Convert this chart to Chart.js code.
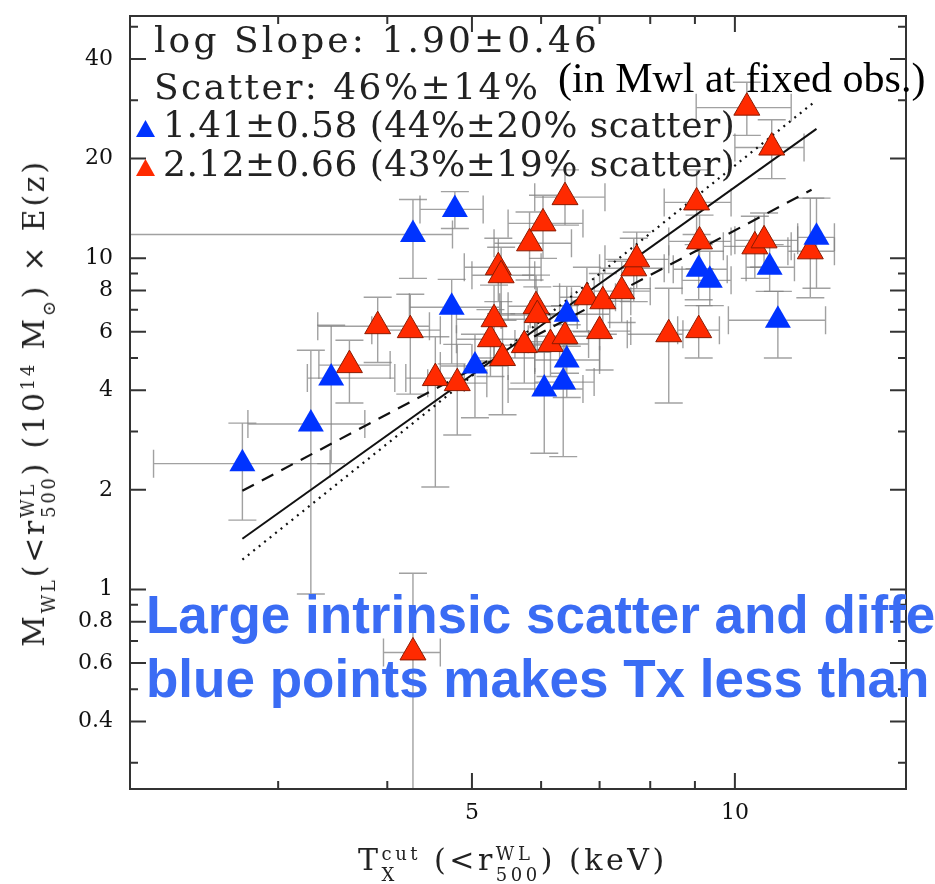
<!DOCTYPE html>
<html lang="pt-br">

<head>
    <meta charset="UTF-8">
    <title>Mwl x Tx</title>
    <script src="https://cdn.jsdelivr.net/npm/chart.js"></script>
    <style>
        html, body { margin: 0; padding: 0; background: #fff; overflow: hidden; }
        .janela { position: relative; width: 935px; height: 884px; overflow: hidden; }
        #grafico { position: absolute; left: 0; top: 0; }
        .texto { position: absolute; white-space: nowrap; line-height: 1; }
        .legenda { font-family: 'DejaVu Serif', serif; font-size: 36px; color: #222; }
        .obs { font-family: 'Liberation Serif', serif; font-size: 42px; color: #000; }
        .aviso { font-family: 'Liberation Sans', Arial, sans-serif; font-weight: bold; font-size: 53px; color: #3a6cf4; }
        .eixo { font-family: 'DejaVu Serif', serif; font-size: 30px; color: #222; }
        .pilha { display: inline-block; font-size: 18px; line-height: 21px; vertical-align: -11px; }
        .pilha span { display: block; }
        .marcador { position: absolute; width: 19px; height: 17px; clip-path: polygon(50% 0, 100% 100%, 0 100%); }
    </style>
</head>

<body onload="desenharGrafico()">

    <div class="janela">
        <canvas id="grafico" width="935" height="884"></canvas>

        <!-- textos da legenda -->
        <div class="texto legenda ajustar" data-largura="446" style="left:154px; top:22px">log Slope: 1.90±0.46</div>
        <div class="texto legenda ajustar" data-largura="387" style="left:154px; top:69px">Scatter: 46%±14%</div>
        <div class="texto obs" style="left:558px; top:57px">(in Mwl at fixed obs.)</div>
        <div class="marcador" style="left:136px; top:120px; background:#0033ff"></div>
        <div class="texto legenda ajustar" data-largura="572" style="left:163px; top:107px">1.41±0.58 (44%±20% scatter)</div>
        <div class="marcador" style="left:136px; top:159px; background:#ff2a00"></div>
        <div class="texto legenda ajustar" data-largura="572" style="left:163px; top:146px">2.12±0.66 (43%±19% scatter)</div>

        <!-- titulos dos eixos -->
        <div class="texto eixo ajustar" id="tituloX" data-largura="320" style="left:358px; top:843px">T<span class="pilha"><span>cut</span><span>X</span></span> (&lt;r<span class="pilha"><span>WL</span><span>500</span></span>) (keV)</div>
        <div class="texto eixo ajustar" id="tituloY" data-largura="493" style="left:38px; top:403px; transform:translate(-50%,-50%) rotate(-90deg)">M<span class="pilha"><span>&#8203;</span><span>WL</span></span>(&lt;r<span class="pilha"><span>WL</span><span>500</span></span>) (10<span class="pilha"><span>14</span><span>&#8203;</span></span> M<span class="pilha"><span>&#8203;</span><span>⊙</span></span>) × E(z)</div>

        <!-- aviso em azul por cima do grafico -->
        <div class="texto aviso" style="left:146px; top:588px">Large intrinsic scatter and different</div>
        <div class="texto aviso" style="left:146px; top:652px">blue points makes Tx less than</div>
    </div>

    <script>
        // ---------------- dados ----------------
        // triangulos vermelhos
        const tempVermelho = [4.28, 3.62, 3.90, 4.25, 4.54, 4.81, 5.25, 5.30, 5.36, 5.40, 5.42, 5.74, 5.82, 5.92, 5.94, 6.03, 6.15, 6.39, 6.39, 6.77, 7.00, 7.06, 7.42, 7.66, 7.72, 8.40, 9.04, 9.09, 9.11, 10.32, 10.54, 10.8, 11.02, 12.2];
        const massaVermelho = [0.646, 4.76, 6.24, 6.07, 4.35, 4.20, 5.70, 6.55, 9.40, 8.89, 5.00, 5.47, 11.1, 7.17, 6.74, 12.75, 5.51, 15.3, 5.82, 7.63, 6.03, 7.42, 7.96, 9.33, 9.93, 5.90, 14.75, 6.07, 11.25, 28.5, 10.87, 11.33, 21.6, 10.5];
        const tMinVermelho = [3.96, 3.34, 3.33, 3.84, 4.20, 4.45, 4.80, 4.80, 4.90, 5.00, 5.00, 5.30, 5.30, 5.50, 5.40, 5.50, 5.60, 5.90, 5.90, 6.30, 6.40, 6.50, 6.90, 7.00, 7.10, 7.53, 8.30, 8.60, 8.40, 9.03, 9.70, 10.0, 10.0, 11.5];
        const tMaxVermelho = [4.60, 4.03, 4.47, 4.60, 4.90, 5.20, 5.80, 5.90, 6.00, 5.90, 5.90, 6.30, 6.50, 6.50, 6.60, 6.70, 6.80, 7.10, 7.00, 7.30, 7.60, 7.60, 8.00, 8.30, 8.40, 8.72, 9.90, 9.60, 9.90, 11.6, 11.6, 11.8, 12.0, 13.0];
        const mMinVermelho = [0.20, 3.66, 4.85, 3.89, 2.04, 2.93, 4.40, 4.90, 7.40, 6.80, 3.37, 4.20, 8.60, 5.60, 5.20, 10.0, 4.40, 12.6, 4.50, 6.00, 4.60, 5.90, 6.40, 7.40, 8.10, 3.66, 11.8, 5.00, 9.30, 23.5, 8.70, 9.40, 17.4, 7.60];
        const mMaxVermelho = [1.12, 5.66, 7.63, 7.79, 5.80, 5.50, 7.00, 8.30, 11.5, 10.8, 6.50, 6.80, 13.8, 8.90, 8.20, 15.5, 6.80, 18.5, 7.20, 9.40, 7.40, 9.00, 9.80, 11.5, 12.0, 8.12, 18.5, 7.20, 13.5, 34.0, 13.4, 13.7, 26.2, 15.2];

        // triangulos azuis
        const tempAzul = [2.73, 3.27, 3.45, 4.28, 4.74, 4.78, 5.04, 6.05, 6.36, 6.42, 6.42, 9.09, 9.36, 10.96, 11.2, 12.4];
        const massaAzul = [2.40, 3.16, 4.35, 11.8, 7.12, 14.05, 4.73, 4.03, 4.23, 6.78, 4.93, 9.27, 8.58, 9.40, 6.50, 11.57];
        const tMinAzul = [2.16, 2.77, 3.24, 1.90, 4.24, 4.36, 4.60, 5.50, 5.90, 5.83, 5.90, 8.50, 8.70, 10.3, 9.83, 11.8];
        const tMaxAzul = [3.44, 3.77, 4.08, 4.75, 5.38, 5.15, 5.50, 6.70, 6.90, 7.19, 7.00, 9.80, 9.90, 11.7, 12.7, 13.0];
        const mMinAzul = [1.62, 0.97, 2.40, 8.70, 4.80, 12.3, 3.30, 2.58, 2.52, 5.43, 3.80, 7.50, 7.20, 7.95, 5.00, 8.12];
        const mMaxAzul = [3.18, 5.28, 6.28, 15.05, 8.64, 15.9, 5.90, 5.30, 5.50, 8.23, 6.30, 11.0, 10.5, 11.0, 7.95, 15.2];

        // retas de ajuste (extremos)
        const retaTodosX = [2.73, 12.4];
        const retaTodosY = [1.424, 24.6];
        const retaAzulX = [2.73, 12.24];
        const retaAzulY = [1.987, 16.1];
        const retaVermelhaX = [2.73, 12.3];
        const retaVermelhaY = [1.231, 29.5];

        // marcas dos eixos
        const xMarcas = [3, 4, 5, 6, 7, 8, 9, 10];
        const xRotulos = [5, 10];
        const yMarcas = [0.3, 0.4, 0.5, 0.6, 0.7, 0.8, 0.9, 1, 2, 3, 4, 5, 6, 7, 8, 9, 10, 20, 30, 40, 50];
        const yRotulos = [0.4, 0.6, 0.8, 1, 2, 4, 6, 8, 10, 20, 40];

        function juntar(xs, ys) {
            return xs.map(function (v, i) { return { x: v, y: ys[i] }; });
        }

        // barras de erro em cinza, desenhadas por baixo dos pontos
        function desenharErros(ctx, sx, sy, xs, ys, x0s, x1s, y0s, y1s) {
            const cap = 14;
            for (let i = 0; i < xs.length; i++) {
                const px = sx.getPixelForValue(xs[i]);
                const py = sy.getPixelForValue(ys[i]);
                const xa = sx.getPixelForValue(x0s[i]);
                const xb = sx.getPixelForValue(x1s[i]);
                const ya = sy.getPixelForValue(y0s[i]);
                const yb = sy.getPixelForValue(y1s[i]);
                ctx.beginPath();
                ctx.moveTo(xa, py); ctx.lineTo(xb, py);
                ctx.moveTo(xa, py - cap); ctx.lineTo(xa, py + cap);
                ctx.moveTo(xb, py - cap); ctx.lineTo(xb, py + cap);
                ctx.moveTo(px, ya); ctx.lineTo(px, yb);
                ctx.moveTo(px - cap, ya); ctx.lineTo(px + cap, ya);
                ctx.moveTo(px - cap, yb); ctx.lineTo(px + cap, yb);
                ctx.stroke();
            }
        }

        const pluginBarrasErro = {
            id: 'barrasErro',
            beforeDatasetsDraw(chart) {
                const ctx = chart.ctx;
                const a = chart.chartArea;
                ctx.save();
                ctx.beginPath();
                ctx.rect(a.left, a.top, a.right - a.left, a.bottom - a.top);
                ctx.clip();
                ctx.strokeStyle = 'rgba(130,130,130,0.75)';
                ctx.lineWidth = 1.4;
                desenharErros(ctx, chart.scales.x, chart.scales.y, tempVermelho, massaVermelho, tMinVermelho, tMaxVermelho, mMinVermelho, mMaxVermelho);
                desenharErros(ctx, chart.scales.x, chart.scales.y, tempAzul, massaAzul, tMinAzul, tMaxAzul, mMinAzul, mMaxAzul);
                ctx.restore();
            }
        };

        // moldura com marcas para dentro nos quatro lados
        const pluginMoldura = {
            id: 'moldura',
            afterDatasetsDraw(chart) {
                const ctx = chart.ctx;
                const a = chart.chartArea;
                const sx = chart.scales.x;
                const sy = chart.scales.y;
                ctx.save();
                ctx.strokeStyle = '#333';
                ctx.lineWidth = 2;
                ctx.strokeRect(a.left, a.top, a.right - a.left, a.bottom - a.top);
                ctx.beginPath();
                sx.ticks.forEach(function (t) {
                    const p = sx.getPixelForValue(t.value);
                    const len = xRotulos.includes(t.value) ? 16 : 8;
                    ctx.moveTo(p, a.bottom); ctx.lineTo(p, a.bottom - len);
                    ctx.moveTo(p, a.top); ctx.lineTo(p, a.top + len);
                });
                sy.ticks.forEach(function (t) {
                    const p = sy.getPixelForValue(t.value);
                    const len = yRotulos.includes(t.value) ? 16 : 8;
                    ctx.moveTo(a.left, p); ctx.lineTo(a.left + len, p);
                    ctx.moveTo(a.right, p); ctx.lineTo(a.right - len, p);
                });
                ctx.stroke();
                ctx.restore();
            }
        };

        function ajustarTextos() {
            // espalha as letras para cada linha ocupar a largura da figura
            document.querySelectorAll('.ajustar').forEach(function (el) {
                const alvo = Number(el.dataset.largura);
                el.style.letterSpacing = '0px';
                const natural = el.offsetWidth;
                const n = el.textContent.replace(/\u200b/g, '').length;
                el.style.letterSpacing = ((alvo - natural) / n) + 'px';
            });
        }

        function desenharGrafico() {
            ajustarTextos();

            const dados = {
                datasets: [{
                    label: 'azul',
                    data: juntar(tempAzul, massaAzul),
                    pointStyle: 'triangle',
                    pointRadius: 15,
                    backgroundColor: '#0033ff',
                    borderColor: '#0033ff',
                    borderWidth: 0,
                    order: 0
                }, {
                    label: 'vermelho',
                    data: juntar(tempVermelho, massaVermelho),
                    pointStyle: 'triangle',
                    pointRadius: 15,
                    backgroundColor: '#ff2a00',
                    borderColor: '#8a1a00',
                    borderWidth: 1,
                    order: 1
                }, {
                    label: 'todos',
                    data: juntar(retaTodosX, retaTodosY),
                    showLine: true,
                    pointRadius: 0,
                    borderColor: '#111',
                    borderWidth: 2,
                    order: 2
                }, {
                    label: 'ajuste azul',
                    data: juntar(retaAzulX, retaAzulY),
                    showLine: true,
                    pointRadius: 0,
                    borderColor: '#111',
                    borderWidth: 2.2,
                    borderDash: [13, 9],
                    order: 2
                }, {
                    label: 'ajuste vermelho',
                    data: juntar(retaVermelhaX, retaVermelhaY),
                    showLine: true,
                    pointRadius: 0,
                    borderColor: '#111',
                    borderWidth: 2.2,
                    borderDash: [2, 5],
                    order: 2
                }]
            };

            const fonteTicks = { family: "'DejaVu Serif', serif", size: 22 };

            const config = {
                type: 'scatter',
                data: dados,
                options: {
                    responsive: false,
                    animation: false,
                    events: [],
                    layout: { padding: { top: 14, right: 29, left: 0, bottom: 0 } },
                    plugins: { legend: { display: false }, tooltip: { enabled: false } },
                    scales: {
                        x: {
                            type: 'logarithmic',
                            min: 2.03,
                            max: 15.7,
                            bounds: 'data',
                            grid: { display: false, drawTicks: false },
                            border: { display: false },
                            afterBuildTicks: function (scale) {
                                scale.ticks = xMarcas.map(function (v) { return { value: v }; });
                            },
                            afterFit: function (scale) {
                                scale.height = 95;
                                scale.paddingLeft = 0;
                                scale.paddingRight = 0;
                            },
                            ticks: {
                                autoSkip: false,
                                maxRotation: 0,
                                padding: 11,
                                color: '#111',
                                font: fonteTicks,
                                callback: function (v) { return xRotulos.includes(v) ? String(v) : ''; }
                            }
                        },
                        y: {
                            type: 'logarithmic',
                            min: 0.25,
                            max: 53.9,
                            bounds: 'data',
                            grid: { display: false, drawTicks: false },
                            border: { display: false },
                            afterBuildTicks: function (scale) {
                                scale.ticks = yMarcas.map(function (v) { return { value: v }; });
                            },
                            afterFit: function (scale) {
                                scale.width = 130;
                                scale.paddingTop = 0;
                                scale.paddingBottom = 0;
                            },
                            ticks: {
                                autoSkip: false,
                                padding: 17,
                                color: '#111',
                                font: fonteTicks,
                                callback: function (v) { return yRotulos.includes(v) ? String(v) : ''; }
                            }
                        }
                    }
                },
                plugins: [pluginBarrasErro, pluginMoldura]
            };

            let myChart = new Chart(document.getElementById('grafico'), config);
        }
    </script>
</body>

</html>
